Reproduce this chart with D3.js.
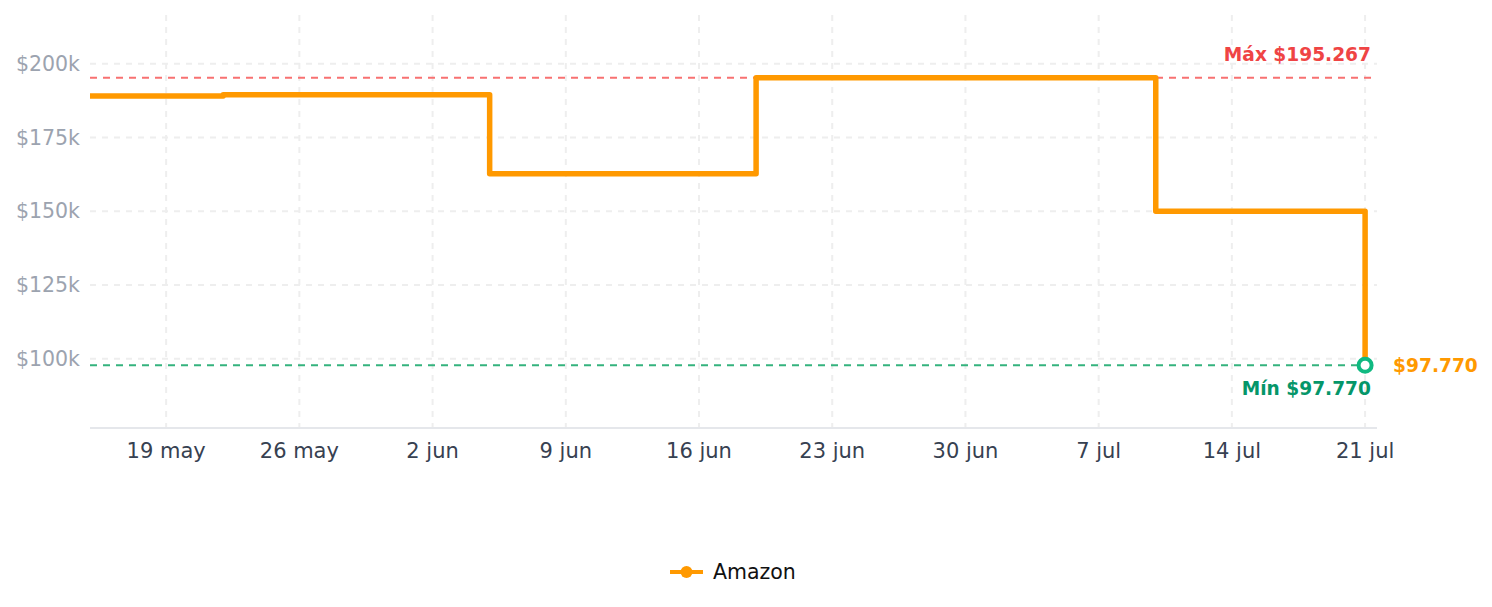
<!DOCTYPE html>
<html>
<head>
<meta charset="utf-8">
<script src="https://cdn.jsdelivr.net/npm/d3@7"></script>
<style>
  body { margin: 0; background: #fff; font-family: "DejaVu Sans", sans-serif; }
  svg { display: block; }
</style>
</head>
<body>
<div id="chart"></div>
<script>
var w = 1492;
var h = 607;
var margin = {top: 15, right: 115, bottom: 179, left: 90};

// price history (step changes)
var dates = ["2025-05-15", "2025-05-22", "2025-06-05", "2025-06-19", "2025-07-10", "2025-07-21"];
var prices = [189100, 189500, 162700, 195267, 150000, 97770];
var seriesName = "Amazon";
var yTicks = [100000, 125000, 150000, 175000, 200000];
var xTickDates = ["2025-05-19", "2025-05-26", "2025-06-02", "2025-06-09", "2025-06-16",
                  "2025-06-23", "2025-06-30", "2025-07-07", "2025-07-14", "2025-07-21"];
var monthNames = ["ene", "feb", "mar", "abr", "may", "jun", "jul", "ago", "sep", "oct", "nov", "dic"];

var parse = d3.timeParse("%Y-%m-%d");
var data = dates.map(function(d, i){ return {date: parse(d), price: prices[i]}; });

var maxP = d3.max(prices);
var minP = d3.min(prices);
var padY = (maxP - minP) * 0.218;

var fmtNum = function(v){ return "$" + d3.format(",")(v).replace(/,/g, "."); };

var iw = w - margin.left - margin.right;
var ih = h - margin.top - margin.bottom;

var last = data[data.length - 1].date;
var xscale = d3.scaleTime()
  .domain([data[0].date, d3.timeHour.offset(last, 15)])
  .range([0, iw]);

var yscale = d3.scaleLinear()
  .domain([minP - padY, maxP + padY])
  .range([ih, 0]);

var svg = d3.select("#chart").append("svg")
  .attr("width", w)
  .attr("height", h);

var g = svg.append("g").attr("transform", "translate(" + margin.left + "," + margin.top + ")");

// grid
g.selectAll(".hgrid").data(yTicks).enter().append("line")
  .attr("x1", 0).attr("x2", iw)
  .attr("y1", function(d){ return yscale(d); })
  .attr("y2", function(d){ return yscale(d); })
  .style("stroke", "#eeeeee").style("stroke-width", 2).style("stroke-dasharray", "6,6");

g.selectAll(".vgrid").data(xTickDates.map(parse)).enter().append("line")
  .attr("x1", function(d){ return xscale(d); })
  .attr("x2", function(d){ return xscale(d); })
  .attr("y1", 0).attr("y2", ih)
  .style("stroke", "#eeeeee").style("stroke-width", 2).style("stroke-dasharray", "6,6");

// y labels
g.selectAll(".ylab").data(yTicks).enter().append("text")
  .attr("x", -10)
  .attr("y", function(d){ return yscale(d); })
  .attr("dy", "0.35em")
  .attr("text-anchor", "end")
  .style("font-size", "20.5px")
  .style("fill", "#9ca3af")
  .text(function(d){ return "$" + (d / 1000) + "k"; });

// x axis line + labels
g.append("line")
  .attr("x1", 0).attr("x2", iw).attr("y1", ih).attr("y2", ih)
  .style("stroke", "#e5e7eb").style("stroke-width", 2);

g.selectAll(".xlab").data(xTickDates.map(parse)).enter().append("text")
  .attr("x", function(d){ return xscale(d); })
  .attr("y", ih + 30)
  .attr("text-anchor", "middle")
  .style("font-size", "21px")
  .style("fill", "#374151")
  .text(function(d){ return d.getDate() + " " + monthNames[d.getMonth()]; });

// max / min reference lines
g.append("line")
  .attr("x1", 0).attr("x2", iw)
  .attr("y1", yscale(maxP)).attr("y2", yscale(maxP))
  .style("stroke", "#f87171").style("stroke-width", 2).style("stroke-dasharray", "7,6");
g.append("text")
  .attr("x", iw - 6).attr("y", yscale(maxP) - 17)
  .attr("text-anchor", "end")
  .style("font-size", "18.6px").style("font-weight", "bold").style("fill", "#ef4444")
  .text("Máx " + fmtNum(maxP));

g.append("line")
  .attr("x1", 0).attr("x2", iw)
  .attr("y1", yscale(minP)).attr("y2", yscale(minP))
  .style("stroke", "#34b37e").style("stroke-width", 2).style("stroke-dasharray", "7,6");
g.append("text")
  .attr("x", iw - 6).attr("y", yscale(minP) + 30)
  .attr("text-anchor", "end")
  .style("font-size", "18.6px").style("font-weight", "bold").style("fill", "#059669")
  .text("Mín " + fmtNum(minP));

// price line
var line = d3.line()
  .x(function(d){ return xscale(d.date); })
  .y(function(d){ return yscale(d.price); })
  .curve(d3.curveStepAfter);

g.append("path")
  .datum(data)
  .attr("d", line)
  .style("fill", "none")
  .style("stroke", "#ff9900")
  .style("stroke-width", 5.5)
  .style("stroke-linejoin", "round");

// last point marker
var lp = data[data.length - 1];
g.append("circle")
  .attr("cx", xscale(lp.date)).attr("cy", yscale(lp.price)).attr("r", 6.5)
  .style("fill", "#fff").style("stroke", "#10b981").style("stroke-width", 4);
g.append("text")
  .attr("x", xscale(lp.date) + 28).attr("y", yscale(lp.price))
  .attr("dy", "0.35em")
  .style("font-size", "18.6px").style("font-weight", "bold").style("fill", "#ff9900")
  .text(fmtNum(lp.price));

// legend
var leg = svg.append("g").attr("transform", "translate(670,572)");
leg.append("line").attr("x1", 0).attr("x2", 33).attr("y1", 0).attr("y2", 0)
  .style("stroke", "#ff9900").style("stroke-width", 4);
leg.append("circle").attr("cx", 16.5).attr("cy", 0).attr("r", 6).style("fill", "#ff9900");
leg.append("text").attr("x", 43).attr("y", 0).attr("dy", "0.35em")
  .style("font-size", "20.5px").style("fill", "#111")
  .text(seriesName);
</script>
</body>
</html>
